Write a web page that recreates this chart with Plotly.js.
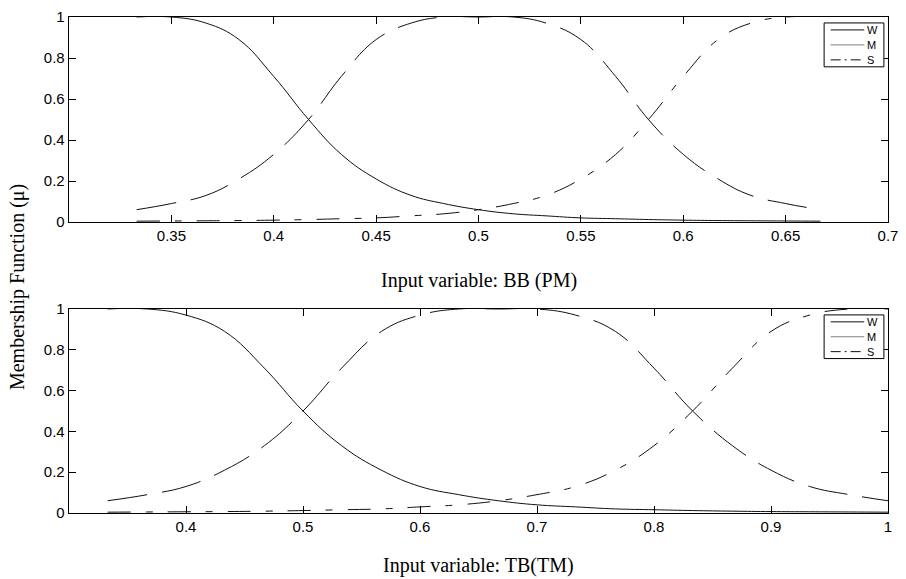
<!DOCTYPE html>
<html>
<head>
<meta charset="utf-8">
<script src="https://cdn.plot.ly/plotly-3.0.1.min.js"></script>
<style>
  html, body { margin: 0; padding: 0; background: #fff; }
  #chart { width: 906px; height: 579px; }
</style>
</head>
<body>
<div id="chart"></div>
<script>
// Membership functions of the input variable BB (PM)
const xBB = [0.333, 0.350, 0.367, 0.383, 0.400, 0.417, 0.433, 0.450, 0.467, 0.483, 0.500,
             0.517, 0.533, 0.550, 0.567, 0.583, 0.600, 0.617, 0.633, 0.650, 0.667];
const W_BB = [1.00, 1.00, 0.97, 0.89, 0.71, 0.50, 0.33, 0.21, 0.13, 0.09, 0.06,
              0.04, 0.03, 0.02, 0.016, 0.012, 0.009, 0.007, 0.006, 0.005, 0.004];
const M_BB = [0.06, 0.09, 0.13, 0.21, 0.33, 0.50, 0.71, 0.89, 0.97, 1.00, 1.00,
              1.00, 0.97, 0.89, 0.71, 0.50, 0.33, 0.21, 0.13, 0.09, 0.06];
const S_BB = [0.004, 0.005, 0.006, 0.007, 0.009, 0.012, 0.016, 0.02, 0.03, 0.04, 0.06,
              0.09, 0.13, 0.21, 0.33, 0.50, 0.71, 0.89, 0.97, 1.00, 1.00];

// Membership functions of the input variable TB (TM)
const xTB = [0.333, 0.367, 0.400, 0.433, 0.467, 0.500, 0.533, 0.567, 0.600, 0.633, 0.667,
             0.700, 0.733, 0.767, 0.800, 0.833, 0.867, 0.900, 0.933, 0.967, 1.000];
const W_TB = [1.00, 1.00, 0.97, 0.89, 0.71, 0.50, 0.33, 0.21, 0.13, 0.09, 0.06,
              0.04, 0.03, 0.02, 0.016, 0.012, 0.009, 0.007, 0.006, 0.005, 0.004];
const M_TB = [0.06, 0.09, 0.13, 0.21, 0.33, 0.50, 0.71, 0.89, 0.97, 1.00, 1.00,
              1.00, 0.97, 0.89, 0.71, 0.50, 0.33, 0.21, 0.13, 0.09, 0.06];
const S_TB = [0.004, 0.005, 0.006, 0.007, 0.009, 0.012, 0.016, 0.02, 0.03, 0.04, 0.06,
              0.09, 0.13, 0.21, 0.33, 0.50, 0.71, 0.89, 0.97, 1.00, 1.00];

const setNames = ["W", "M", "S"];
const ticksBB = [0.35, 0.4, 0.45, 0.5, 0.55, 0.6, 0.65, 0.7];
const tickTextBB = ["0.35", "0.4", "0.45", "0.5", "0.55", "0.6", "0.65", "0.7"];
const ticksTB = [0.4, 0.5, 0.6, 0.7, 0.8, 0.9, 1];
const tickTextTB = ["0.4", "0.5", "0.6", "0.7", "0.8", "0.9", "1"];
const ticksMu = [0, 0.2, 0.4, 0.6, 0.8, 1];
const tickTextMu = ["0", "0.2", "0.4", "0.6", "0.8", "1"];
const titleBB = "Input variable: BB (PM)";
const titleTB = "Input variable: TB(TM)";
const titleMu = "Membership Function (\u03bc)";

const INK = "#111";
const dashes = ["solid", "40px,15px", "23px,15px,7px,15px"];

function curves(x, ys, xa, ya) {
  return ys.map((y, i) => ({
    type: "scatter", mode: "lines", x: x, y: y, name: setNames[i],
    xaxis: xa, yaxis: ya, showlegend: false, hoverinfo: "skip",
    line: { color: INK, width: 1, dash: dashes[i], shape: "spline", smoothing: 1.2 }
  }));
}

const data = [
  ...curves(xBB, [W_BB, M_BB, S_BB], "x", "y"),
  ...curves(xTB, [W_TB, M_TB, S_TB], "x2", "y2")
];

const sans = "Liberation Sans, Arial, Helvetica, sans-serif";
const serif = "Liberation Serif, Times New Roman, serif";

function xAxis(range, vals, text, anchor) {
  return {
    range: range, anchor: anchor, tickmode: "array", tickvals: vals, ticktext: text,
    ticks: "inside", ticklen: 7, tickcolor: "#000", tickwidth: 1,
    showline: true, mirror: "ticks", linecolor: "#000", linewidth: 1.3,
    showgrid: false, zeroline: false, fixedrange: true,
    tickfont: { family: sans, size: 15, color: "#000" }
  };
}
function yAxis(domain, anchor) {
  return {
    domain: domain, range: [0, 1], anchor: anchor, tickmode: "array",
    tickvals: ticksMu, ticktext: tickTextMu,
    ticks: "inside", ticklen: 7, tickcolor: "#000", tickwidth: 1,
    showline: true, mirror: "ticks", linecolor: "#000", linewidth: 1.3,
    showgrid: false, zeroline: false, fixedrange: true,
    tickfont: { family: sans, size: 15, color: "#000" }
  };
}

// Boxed key in the upper right corner of a panel
function key(xr, yr) {
  const shapes = [], notes = [];
  shapes.push({
    type: "rect", xref: xr, yref: yr, x0: 0.922, x1: 0.995, y0: 0.757, y1: 0.971,
    line: { color: "#000", width: 1 }, fillcolor: "#fff", layer: "above"
  });
  const rows = [0.937, 0.864, 0.791];
  const keyLines = [
    { color: INK, dash: "solid" },
    { color: "#808080", dash: "solid" },
    { color: INK, dash: "10px,4px,2px,4px" }
  ];
  rows.forEach((ry, i) => {
    shapes.push({
      type: "line", xref: xr, yref: yr, x0: 0.930, x1: 0.971, y0: ry, y1: ry,
      line: { color: keyLines[i].color, width: 1, dash: keyLines[i].dash }, layer: "above"
    });
    notes.push({
      xref: xr, yref: yr, x: 0.973, y: ry, text: setNames[i], showarrow: false,
      xanchor: "left", yanchor: "middle", borderpad: 0,
      font: { family: sans, size: 11, color: "#000" }
    });
  });
  return { shapes, notes };
}

const k1 = key("x domain", "y domain");
const k2 = key("x2 domain", "y2 domain");

const layout = {
  width: 906, height: 579,
  margin: { l: 69, r: 18, t: 17, b: 66 },
  paper_bgcolor: "#fff", plot_bgcolor: "#fff",
  showlegend: false,
  xaxis: xAxis([0.3, 0.7], ticksBB, tickTextBB, "y"),
  yaxis: yAxis([0.5867, 1], "x"),
  xaxis2: xAxis([0.3, 1], ticksTB, tickTextTB, "y2"),
  yaxis2: yAxis([0, 0.4113], "x2"),
  shapes: [...k1.shapes, ...k2.shapes],
  annotations: [
    ...k1.notes, ...k2.notes,
    { xref: "paper", yref: "paper", x: 0.5, y: 0.468, text: titleBB, showarrow: false,
      xanchor: "center", yanchor: "middle", font: { family: serif, size: 20, color: "#000" } },
    { xref: "paper", yref: "paper", x: 0.5, y: -0.106, text: titleTB, showarrow: false,
      xanchor: "center", yanchor: "middle", font: { family: serif, size: 20, color: "#000" } },
    { xref: "paper", yref: "paper", x: -0.062, y: 0.456, text: titleMu, showarrow: false,
      textangle: -90, xanchor: "center", yanchor: "middle",
      font: { family: serif, size: 20, color: "#000" } }
  ]
};

Plotly.newPlot("chart", data, layout, { displayModeBar: false, staticPlot: true });
</script>
</body>
</html>
